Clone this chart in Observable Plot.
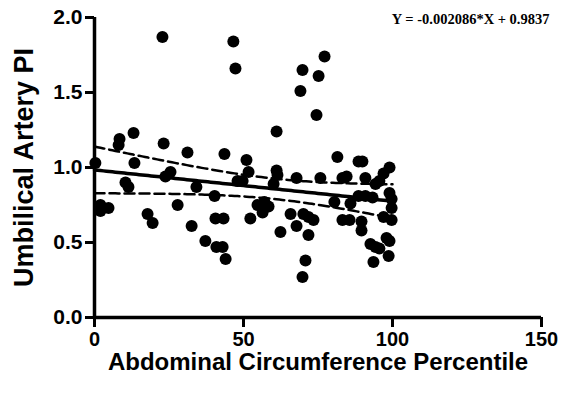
<!DOCTYPE html>
<html>
<head>
<meta charset="utf-8">
<script src="https://cdn.jsdelivr.net/npm/d3@7"></script>
<script src="https://cdn.jsdelivr.net/npm/@observablehq/plot@0.6"></script>
<style>
  html, body { margin: 0; padding: 0; background: #fff; }
  #chart svg { display: block; }
</style>
</head>
<body>
<div id="chart"></div>
<script>
// Abdominal circumference percentile of each pregnancy
const acPercentile = [
  22.8, 46.6, 47.3, 77.2, 69.8, 75.2, 69.1, 74.5, 61.1,
  13.1, 8.4, 8.1, 23.2, 31.2, 43.6, 0.3, 13.4, 51.0, 51.7, 25.5,
  23.8, 10.4, 11.4, 34.2, 40.3, 48.0, 49.7, 61.1, 61.4, 60.1,
  67.8, 75.8, 81.5, 88.6, 89.9, 83.2, 84.6, 90.9, 99.0, 97.0,
  95.6, 94.3, 99.0, 99.7, 88.6, 90.9, 93.3, 80.5, 85.9, 99.7,
  2.0, 4.7, 2.0, 27.9, 17.8, 19.5, 32.6, 40.6, 43.3, 52.3,
  54.7, 57.0, 58.4, 56.4, 65.8, 67.8, 62.4, 70.1, 71.8, 73.5,
  71.8, 70.8, 69.8, 83.2, 85.6, 89.6, 89.6, 97.0, 99.7, 92.6,
  94.3, 95.6, 98.0, 99.0, 98.7, 93.6, 37.2, 40.9, 43.0, 44.0
];
// Umbilical artery pulsatility index for the same pregnancies
const umbilicalPI = [
  1.87, 1.84, 1.66, 1.74, 1.65, 1.61, 1.51, 1.35, 1.24,
  1.23, 1.19, 1.15, 1.16, 1.10, 1.09, 1.03, 1.03, 1.05, 0.97, 0.97,
  0.94, 0.90, 0.87, 0.87, 0.81, 0.91, 0.91, 0.98, 0.95, 0.89,
  0.93, 0.93, 1.07, 1.04, 1.04, 0.93, 0.94, 0.93, 1.00, 0.96,
  0.91, 0.89, 0.83, 0.79, 0.81, 0.81, 0.80, 0.77, 0.76, 0.73,
  0.75, 0.73, 0.71, 0.75, 0.69, 0.63, 0.61, 0.66, 0.66, 0.66,
  0.75, 0.77, 0.74, 0.70, 0.69, 0.61, 0.57, 0.69, 0.67, 0.65,
  0.55, 0.38, 0.27, 0.65, 0.65, 0.64, 0.58, 0.67, 0.65, 0.49,
  0.47, 0.46, 0.53, 0.51, 0.41, 0.37, 0.51, 0.47, 0.47, 0.39
];

// Fitted line, as reported in the equation
const slope = -0.002086;
const intercept = 0.9837;
const fitRange = [0, 100];

const xTicks = [0, 50, 100, 150];
const yTicks = [0, 0.5, 1.0, 1.5, 2.0];
const xLabel = "Abdominal Circumference Percentile";
const yLabel = "Umbilical Artery PI";
const equationLabel = `Y = ${slope}*X + ${intercept}`;

const points = acPercentile.map((x, i) => ({x, y: umbilicalPI[i]}));

// 95% confidence band of the fitted line, from the residuals of the points
const n = points.length;
const meanX = d3.mean(acPercentile);
const sxx = d3.sum(acPercentile, (x) => (x - meanX) ** 2);
const sse = d3.sum(points, (p) => (p.y - (intercept + slope * p.x)) ** 2);
const se = Math.sqrt(sse / (n - 2));
const tCrit = 1.987;
const bandX = d3.range(fitRange[0], fitRange[1] + 0.001, 1);
const band = bandX.map((x) => {
  const fit = intercept + slope * x;
  const h = tCrit * se * Math.sqrt(1 / n + (x - meanX) ** 2 / sxx);
  return {x, fit, lo: fit - h, hi: fit + h};
});

const chart = Plot.plot({
  width: 566,
  height: 394,
  marginLeft: 94,
  marginRight: 25,
  marginTop: 17,
  marginBottom: 77,
  style: {
    fontFamily: "'Liberation Sans', Arial, Helvetica, sans-serif",
    fontWeight: "bold",
    background: "#fff",
    color: "#000"
  },
  x: {domain: [0, 150]},
  y: {domain: [0, 2]},
  marks: [
    Plot.axisX({ticks: xTicks, tickSize: 10, tickPadding: 4, strokeWidth: 3, fontSize: 20, label: null}),
    Plot.axisY({ticks: yTicks, tickSize: 9, tickPadding: 3, strokeWidth: 3, fontSize: 21,
      tickFormat: d3.format(".1f"), label: null}),
    Plot.ruleY([0], {strokeWidth: 3.5}),
    Plot.ruleX([0], {strokeWidth: 3.5}),
    Plot.dot(points, {x: "x", y: "y", r: 6, fill: "#000", stroke: null}),
    Plot.line(band, {x: "x", y: "hi", stroke: "#000", strokeWidth: 2.5, strokeDasharray: "10,5"}),
    Plot.line(band, {x: "x", y: "lo", stroke: "#000", strokeWidth: 2.5, strokeDasharray: "10,5"}),
    Plot.line(band, {x: "x", y: "fit", stroke: "#000", strokeWidth: 3.5}),
    Plot.text([equationLabel], {frameAnchor: "top-right", textAnchor: "end", lineAnchor: "middle",
      dx: 8, dy: 2, fontSize: 14.5, fontFamily: "'Liberation Serif', 'Times New Roman', serif", fontWeight: "bold"}),
    Plot.text([yLabel], {frameAnchor: "left", textAnchor: "middle", rotate: -90, dx: -70, fontSize: 27, lineAnchor: "middle"}),
    Plot.text([xLabel], {frameAnchor: "bottom", textAnchor: "middle", dy: 45, fontSize: 24, lineAnchor: "middle"})
  ]
});

document.getElementById("chart").appendChild(chart);
</script>
</body>
</html>
